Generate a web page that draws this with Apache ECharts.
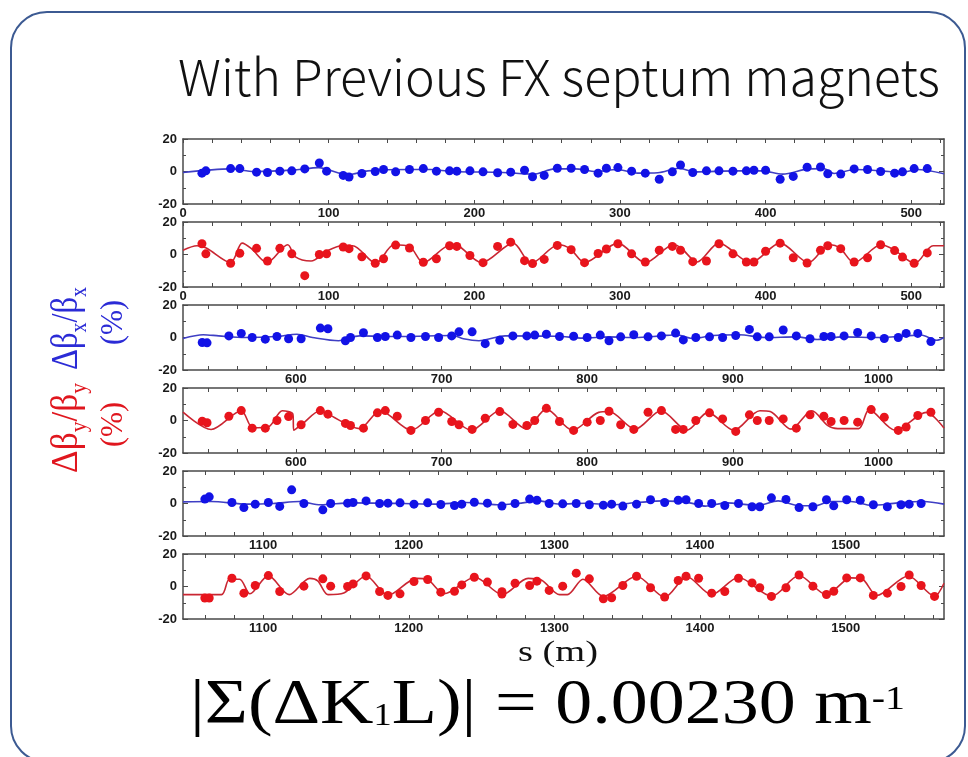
<!DOCTYPE html>
<html>
<head>
<meta charset="utf-8">
<script src="https://cdn.jsdelivr.net/npm/echarts@6.0.0/dist/echarts.min.js"></script>
<style>
html,body{margin:0;padding:0;background:#ffffff;}
#chart{width:968px;height:757px;}
</style>
</head>
<body>
<div id="chart"></div>
<script>
// ===================== DATA =====================
// tick labels
const xLabelsA = [0, 100, 200, 300, 400, 500];
const xLabelsB = [600, 700, 800, 900, 1000];
const xLabelsC = [1100, 1200, 1300, 1400, 1500];
const sRangeA = [0, 522.5];
const sRangeB = [522.5, 1045];
const sRangeC = [1045, 1567.5];

// Panel 1 : delta beta_x / beta_x (%), s = 0 - 522.5 m
const p1DotS = [13,15.7,32.7,39,50.5,58,66.5,74.7,83.6,93.6,98.6,110,114,122.8,132,137.7,146,155.5,165,174,183,188,197,206,216,225,234.5,240,248,257,266.5,275.7,285,290.7,298.6,308,317.4,327,336,341.6,350,359.4,368,377.6,386.8,392,400,410,419,428.5,437.7,442.7,451.6,460.8,470,479,488.6,494,502,511];
const p1DotV = [-1,0.4,1.8,1.8,-0.4,-0.6,0.2,0.4,1.6,5.2,0.2,-2.4,-3.4,-1.2,0,1.2,-0.2,1.2,1.8,0.2,0.4,0.2,0.4,-0.2,-0.8,-0.4,0.8,-3.2,-2.4,2,2,1.2,-1,2,2.4,0.2,-1,-4.8,-0.2,4,-0.6,0.4,0.4,0.2,0.4,0.8,0.8,-4.8,-3,2.6,2.8,-1.4,-1.6,1.6,1.2,0,-1,-0.2,1.8,1.8];
const p1LineS = [0,32.7,48.8,77,93,113,127,155.5,170,184,219.6,241,255,269,283.6,298,312,326,340.6,351,380,397.5,411.7,429.5,440,447,461.6,479,493.6,504,522.5];
const p1LineV = [-0.6,1.6,0,1,2.4,-2,0.4,1.2,1.2,0,-0.6,-1.6,1.6,1.6,0,1.2,-1,-0.8,2,-0.2,0.4,0.4,-1.6,1.6,1.8,-1.2,1.2,0.4,-0.6,1.2,-1.4];

// Panel 2 : delta beta_y / beta_y (%), s = 0 - 522.5 m
const p2DotS = [13,15.7,32.7,39,50.5,58,66.5,74.7,83.6,93.6,98.6,110,114,122.8,132,137.7,146,155.5,165,174,183,188,197,206,216,225,234.5,240,248,257,266.5,275.7,285,290.7,298.6,308,317.4,327,336,341.6,350,359.4,368,377.6,386.8,392,400,410,419,428.5,437.7,442.7,451.6,460.8,470,479,488.6,494,502,511];
const p2DotV = [6.6,0.4,-5.4,0.8,3.8,-4,3.8,0.4,-13,0,0.4,4.6,3.6,-1.4,-5.4,-2.6,5.8,4,-4.8,-2.6,5.4,5,-0.6,-5,5,7.6,-3.8,-5.6,-3,5.6,3,-5,0.6,3.4,6.6,0.4,-4.6,2.6,5,2.6,-4.4,-4,6.6,0.4,-4.6,-4.6,2,7,-2,-5.2,2.6,5.4,3.6,-4.6,-2,6,2.4,-1.6,-5.4,1];
const p2LineS = [0,9.6,16,32.7,40.6,47,57.7,71.9,77.2,87.9,98.6,109,116.4,132.4,144.8,155.5,165,184,189,205,226.7,239,258,266,275.8,298.6,317.4,337,342,353,368,389.7,410,429.5,443.8,451,460.8,479.4,488,502.5,515,522.5];
const p2LineV = [2.6,5.4,4,-5,7,3.6,-5,6,-1.5,-4,2,5.4,5.4,-5.4,6,5,-5,6,5.4,-5,7,-5.4,6,3.4,-5,7,-5,6,4,-4.6,7,-5,7,-5,6,4,-5,6,3,-5.4,5.4,5.4];

// Panel 3 : delta beta_x / beta_x (%), s = 522.5 - 1045 m
const p3DotS = [535.7,539,554,562.5,570,579,587,595,603.6,616.8,622,634,637.5,646.4,656,661.4,669.6,679,689,698,707,712,721,730,740,749,758.6,764,772,781,790.7,800,809,815,823,832,841.8,851,860.7,866,874.6,884,893,902,911.4,916.8,925,934.6,943.6,953,962.5,967.5,976.4,985.7,995,1004,1013.6,1019,1027,1036];
const p3DotV = [-3.1,-3.3,1,2.5,0,-1,0.6,-0.8,-0.8,5.8,5.4,-2,0,2.9,0,0.6,1.5,0,0.6,0,1,3.5,3.5,-3.8,-1.7,1,1,1.5,2,0.6,0.8,0,1.5,-2,0.4,1.7,0.4,1,2.7,-1.5,0,0.4,0,1.25,5,0.4,0.4,4.6,1,-0.8,0.6,0.6,1,3.1,1,-0.6,0,2.5,2.5,-2.5];
const p3LineS = [522.5,536.4,547,565,586.4,600.7,611.4,629.3,643.6,672,707.9,715,725.7,743.6,779.3,797,815,832.9,850.7,861.4,872,886.4,904.3,922,943.6,957.9,975.7,1000.7,1018.6,1029.3,1040,1045];
const p3LineV = [-0.6,1.7,1,0,0.6,2,0,-2,1,0.6,1.2,-0.8,-2,1,0.8,-0.4,0.4,0,1,1.7,-0.6,1.2,1.7,0,0.4,-1.2,0.4,0,1,1.5,-1.7,0];

// Panel 4 : delta beta_y / beta_y (%), s = 522.5 - 1045 m
const p4DotS = [535.7,539,554,562.5,570,579,587,595,603.6,616.8,622,634,637.5,646.4,656,661.4,669.6,679,689,698,707,712,721,730,740,749,758.6,764,772,781,790.7,800,809,815,823,832,841.8,851,860.7,866,874.6,884,893,902,911.4,916.8,925,934.6,943.6,953,962.5,967.5,976.4,985.7,995,1004,1013.6,1019,1027,1036];
const p4DotV = [-0.4,-1.4,2.6,6.1,-4.7,-4.7,0,2.4,-2.6,6.1,3.9,-1.8,-3.1,-4.7,4.7,6.1,2.6,-6.1,0,5.1,-0.6,-2.6,-5.5,1.4,5.5,-2.4,-3.1,0,7.5,-0.6,-6.1,-1,0,5.7,-2.6,-5.5,5.1,6.1,-5.5,-5.5,0,4.7,1,-6.7,3.5,0,0,1,-4.7,3.5,2.6,-0.6,0,-1,6.7,2,-6.1,-4,3.1,5.1];
const p4LineS = [522.5,541.8,562.5,570.4,581,590.7,597.9,598.6,604,616.8,622,643.6,657.9,679.3,698.9,720.4,740,757.9,772,790,807.9,815,832.9,850.7,868.6,882.9,900.7,918.6,925.7,940,954.3,965,972,986.4,993.6,1011.4,1032.9,1045];
const p4LineV = [5.1,-5.5,6,-4.5,-4,6,4,-6,-2.5,6,4,-5,6,-6,6,-6,6,-5,7,-6,5,5.5,-5.3,6,-6,5,-6,6,5.5,-5.3,6,-3,-5,-5,6.7,-6,5,-4.7];

// Panel 5 : delta beta_x / beta_x (%), s = 1045 - 1567.5 m
const p5DotS = [1060,1063,1078.6,1086.8,1094.6,1103.6,1111.4,1119.6,1128,1141,1146.4,1158,1161.8,1170.7,1180,1185.7,1194,1203.6,1213,1222,1231.4,1236.4,1245,1254,1264,1273,1283,1288,1296.4,1305.7,1315,1324,1333.6,1339.3,1347,1356.4,1366,1375.7,1385,1390.4,1399,1408,1417,1426.4,1435.7,1441,1449,1459,1468,1477.5,1486.8,1491.8,1500.7,1510,1519,1528.6,1538,1543.6,1551.8];
const p5DotV = [2.7,4.1,0.6,-2.5,-0.4,0.6,-1.8,8.4,0,-3.9,0,0.2,0.6,1.6,0,0.2,0.4,-0.4,0.4,-0.6,-1.2,-0.4,0.8,0.2,-1.6,0,2.7,2,0,-0.2,0,-0.8,-1,-0.4,-1.6,-0.4,2.3,0.6,2,2.3,0,0,-1.2,0,-2,-2,3.5,2.5,-2.5,-2,2.3,-1.4,2.3,2,-0.8,-2,-0.8,-0.4,0];
const p5LineS = [1045,1064.3,1089.3,1107,1125,1139.3,1160.7,1196.4,1217.9,1239.3,1260.7,1275,1289.3,1303.6,1321.4,1339.3,1357,1375,1392.9,1403.6,1417.9,1439.3,1453.6,1467.9,1478.6,1489.3,1503.6,1517.9,1535.7,1553.6,1567.5];
const p5LineV = [1,1.2,-0.4,0,1.2,-0.8,0.4,0,-0.4,0.6,-0.8,0,1.6,-0.4,0.2,-0.8,0.6,1.6,0.4,-1.6,0.4,-1.2,1.6,-1.4,-1.4,1.2,1.2,-1.2,0.4,1.2,-0.4];

// Panel 6 : delta beta_y / beta_y (%), s = 1045 - 1567.5 m
const p6DotS = [1060,1063,1078.6,1086.8,1094.6,1103.6,1111.4,1128,1141,1146.4,1158,1161.8,1170.7,1180,1185.7,1194,1203.6,1213,1222,1231.4,1236.4,1245,1254,1264,1264,1273,1283,1288,1296.4,1305.7,1315,1324,1333.6,1339.3,1347,1356.4,1366,1375.7,1385,1390.4,1399,1408,1417,1426.4,1435.7,1441,1449,1459,1468,1477.5,1486.8,1491.8,1500.7,1510,1519,1528.6,1538,1543.6,1551.8,1561];
const p6DotV = [-7.1,-7.1,5.1,-4.1,0.6,6.7,-3.1,0.2,4.7,0.2,0,1.6,6.5,-3.1,-5.5,-4.5,3.1,4.3,-3.5,-2.9,1,5.7,2.7,-3.2,-4.6,2,0.6,3.3,-2.4,0.2,8.2,4.7,-7.6,-6.9,0.6,6.3,-0.8,-6.5,3.7,6.3,5.1,-4.1,-3.1,5.1,2.2,-0.8,-6.1,-0.8,7.1,0.2,-4.9,-2.9,5.3,5.3,-5.5,-4.1,0,7.1,0.6,-6.1];
const p6LineS = [1045,1071.4,1076.8,1083.9,1091,1103.6,1117.9,1132,1137.5,1144.6,1155.4,1170.7,1185.7,1205.4,1212.5,1224.3,1245.4,1264.3,1282,1291,1303.6,1308.9,1319.6,1333.6,1356.4,1375.7,1391,1408,1426.4,1449.3,1467.9,1486.8,1503.6,1510.7,1521.4,1542.9,1561,1567.5];
const p6LineV = [-5,-5,4.5,4.5,-4.5,6.7,-5,5,3.5,-5,-4,6.5,-5.5,5,4.5,-4.5,5.7,-5,5,4,-5,-5,4.5,-6,6.3,-6.5,6,-5,5.5,-6,6.8,-5,5.3,5,-5.5,6.5,-6,2];

// ===================== LAYOUT / STYLE =====================
const BLUE_DOT = '#1212e6', BLUE_LINE = '#3f3fc4';
const RED_DOT = '#e8141c', RED_LINE = '#c92632';
const panels = [
  {dS:p1DotS, dV:p1DotV, lS:p1LineS, lV:p1LineV, range:sRangeA, labels:xLabelsA, dot:BLUE_DOT, line:BLUE_LINE},
  {dS:p2DotS, dV:p2DotV, lS:p2LineS, lV:p2LineV, range:sRangeA, labels:xLabelsA, dot:RED_DOT, line:RED_LINE},
  {dS:p3DotS, dV:p3DotV, lS:p3LineS, lV:p3LineV, range:sRangeB, labels:xLabelsB, dot:BLUE_DOT, line:BLUE_LINE},
  {dS:p4DotS, dV:p4DotV, lS:p4LineS, lV:p4LineV, range:sRangeB, labels:xLabelsB, dot:RED_DOT, line:RED_LINE},
  {dS:p5DotS, dV:p5DotV, lS:p5LineS, lV:p5LineV, range:sRangeC, labels:xLabelsC, dot:BLUE_DOT, line:BLUE_LINE},
  {dS:p6DotS, dV:p6DotV, lS:p6LineS, lV:p6LineV, range:sRangeC, labels:xLabelsC, dot:RED_DOT, line:RED_LINE}
];
const gridTops = [139, 222, 305, 388, 471, 554];
const GRID_LEFT = 183, GRID_W = 761, GRID_H = 65;
const zip = (a, b) => a.slice(0, Math.min(a.length, b.length)).map((v, i) => [v, b[i]]);
const minorTicks = r => { const t = []; for (let v = Math.ceil(r[0] / 20) * 20; v <= r[1]; v += 20) t.push(v); return t; };

const AX = '#4a4a4a';
const labelStyle = {color:'#1a1a1a', fontWeight:'bold', fontSize:13, fontFamily:'"Liberation Sans", Arial, sans-serif', formatter: v => String(v)};

const grid = [], xAxis = [], yAxis = [], series = [];
panels.forEach((p, i) => {
  grid.push({left: GRID_LEFT, top: gridTops[i], width: GRID_W, height: GRID_H, containLabel: false});
  const ticks = minorTicks(p.range);
  xAxis.push({
    gridIndex:i, type:'value', position:'bottom', min:p.range[0], max:p.range[1],
    axisLine:{show:true, onZero:false, lineStyle:{color:AX, width:1.5}},
    axisTick:{show:true, inside:true, length:4, customValues:ticks, lineStyle:{color:AX}},
    axisLabel:Object.assign({show:true, margin:3, customValues:p.labels}, labelStyle),
    splitLine:{show:false}
  });
  xAxis.push({
    gridIndex:i, type:'value', position:'top', min:p.range[0], max:p.range[1],
    axisLine:{show:true, onZero:false, lineStyle:{color:AX, width:1.5}},
    axisTick:{show:true, inside:true, length:4, customValues:ticks, lineStyle:{color:AX}},
    axisLabel:{show:false}, splitLine:{show:false}
  });
  yAxis.push({
    gridIndex:i, type:'value', position:'left', min:-20, max:20, interval:20,
    axisLine:{show:true, onZero:false, lineStyle:{color:AX, width:1.5}},
    axisTick:{show:true, inside:true, length:5, lineStyle:{color:AX}},
    minorTick:{show:true, splitNumber:2, length:3, lineStyle:{color:AX}},
    axisLabel:Object.assign({show:true, margin:6}, labelStyle),
    splitLine:{show:false}
  });
  yAxis.push({
    gridIndex:i, type:'value', position:'right', min:-20, max:20, interval:20,
    axisLine:{show:true, onZero:false, lineStyle:{color:AX, width:1.5}},
    axisTick:{show:true, inside:true, length:5, lineStyle:{color:AX}},
    minorTick:{show:true, splitNumber:2, length:3, lineStyle:{color:AX}},
    axisLabel:{show:false}, splitLine:{show:false}
  });
  series.push({
    type:'line', xAxisIndex:2*i, yAxisIndex:2*i, data:zip(p.lS, p.lV),
    showSymbol:false, smooth:0.3, lineStyle:{color:p.line, width:1.6}, silent:true, z:2
  });
  series.push({
    type:'scatter', xAxisIndex:2*i, yAxisIndex:2*i, data:zip(p.dS, p.dV),
    symbol:'circle', symbolSize:9, itemStyle:{color:p.dot, opacity:1}, silent:true, z:3
  });
});

// ---------- text helpers ----------
const mctx = document.createElement('canvas').getContext('2d');
function tw(t, font) { mctx.font = font; return mctx.measureText(t).width; }
// pieces: [text, fontSize, baselineShift]; origin = start of baseline
function textRun(pieces, family, color, weight) {
  let adv = 0; const children = [];
  pieces.forEach(([t, fs, dy]) => {
    const font = (weight ? weight + ' ' : '') + fs + 'px ' + family;
    children.push({type:'text', x:adv, y:dy - 0.3 * fs,
      style:{text:t, font:font, fill:color, textAlign:'left', textVerticalAlign:'middle'}});
    adv += tw(t, font);
  });
  return {children, width:adv};
}
function hGroup(pieces, family, color, x, baseline, targetW, weight) {
  const r = textRun(pieces, family, color, weight);
  return {type:'group', x:x, y:baseline, scaleX:targetW / r.width, children:r.children};
}
function vGroup(pieces, family, color, baseX, startY, targetL, sy) {
  const r = textRun(pieces, family, color);
  return {type:'group', x:baseX, y:startY, rotation:Math.PI / 2, scaleX:targetL / r.width, scaleY:sy || 1, children:r.children};
}

const SERIF = '"Liberation Serif", "Times New Roman", serif';
const YBLUE = '#2b2bd6', YRED = '#e0161e';
const graphics = [
  {type:'rect', shape:{x:11, y:12, width:954, height:750, r:36},
   style:{fill:'none', stroke:'#3c5a92', lineWidth:2}, silent:true},
  hGroup([['With Previous FX septum magnets', 50, 0]], '"Noto Sans CJK JP", sans-serif', '#111', 178, 92, 762, 300),
  hGroup([['s (m)', 29, 0]], SERIF, '#111', 518, 662, 80),
  hGroup([['|Σ(ΔK', 63, 0], ['1', 31, 1], ['L)| = 0.00230 m', 63, 0], ['-1', 34, -15]], SERIF, '#000', 190, 725, 715),
  vGroup([['Δβ', 31, 0], ['x', 19, 7], ['/β', 31, 0], ['x', 19, 7]], SERIF, YBLUE, 78, 370, 83, 1.25),
  vGroup([['(%)', 30, 0]], SERIF, YBLUE, 123, 345, 45, 1.05),
  vGroup([['Δβ', 31, 0], ['y', 19, 7], ['/β', 31, 0], ['y', 19, 7]], SERIF, YRED, 78, 473, 90, 1.25),
  vGroup([['(%)', 30, 0]], SERIF, YRED, 123, 447, 45, 1.05)
];

const chart = echarts.init(document.getElementById('chart'), null, {renderer:'canvas'});
chart.setOption({
  animation:false,
  backgroundColor:'#ffffff',
  grid, xAxis, yAxis, series,
  graphic:{elements:graphics}
});
</script>
</body>
</html>
